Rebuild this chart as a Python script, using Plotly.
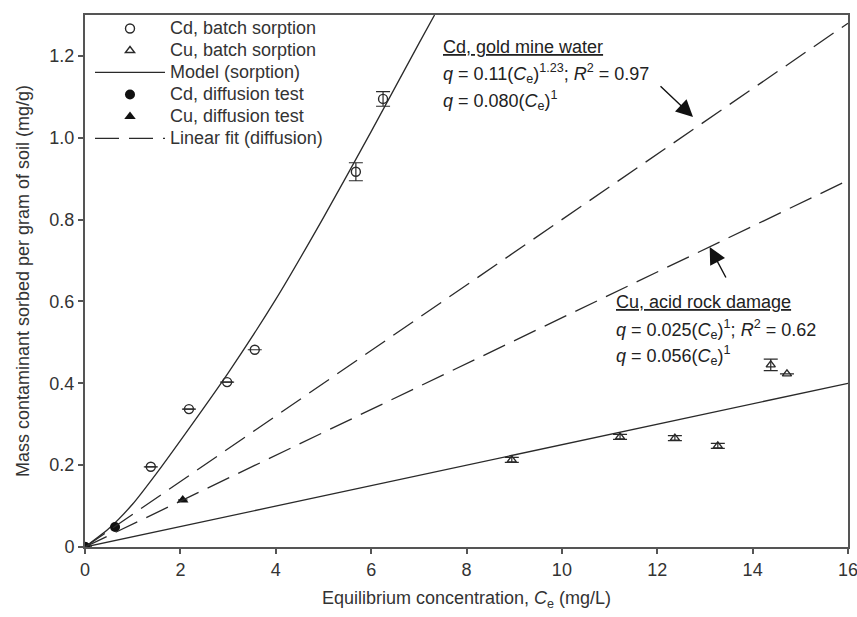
import plotly.graph_objects as go

# ---- data ----
cd_batch_x = [0.0, 1.38, 2.18, 2.98, 3.56, 5.68, 6.25]
cd_batch_y = [0.0, 0.196, 0.337, 0.403, 0.482, 0.917, 1.095]
cd_batch_xerr = [0, 0.12, 0.12, 0.12, 0, 0, 0]
cd_batch_yerr = [0, 0, 0, 0, 0, 0.022, 0.018]

cu_batch_x = [0.0, 8.95, 11.22, 12.37, 13.27, 14.38, 14.72]
cu_batch_y = [0.0, 0.213, 0.269, 0.266, 0.247, 0.445, 0.423]
cu_batch_yerr = [0, 0.006, 0.006, 0.006, 0.006, 0.014, 0]

cd_diff_x = [0.0, 0.63]
cd_diff_y = [0.0, 0.049]
cu_diff_x = [0.0, 2.05]
cu_diff_y = [0.0, 0.115]
cu_diff_xerr = [0, 0.1]

# model (sorption) curves
cd_model_x = [0.0, 0.5, 1.0, 1.5, 2.0, 3.0, 4.0, 5.0, 6.0, 7.0, 7.33]
cd_model_y = [0.0, 0.045, 0.105, 0.18, 0.26, 0.425, 0.605, 0.805, 1.015, 1.23, 1.30]
cu_model_x = [0.0, 16.0]
cu_model_y = [0.0, 0.40]

# linear fits (diffusion)
cd_fit_x = [0.0, 16.0]
cd_fit_y = [0.0, 1.28]
cu_fit_x = [0.0, 16.0]
cu_fit_y = [0.0, 0.896]

x_ticks = [0, 2, 4, 6, 8, 10, 12, 14, 16]
y_ticks = [0, 0.2, 0.4, 0.6, 0.8, 1.0, 1.2]
y_ticktext = ["0", "0.2", "0.4", "0.6", "0.8", "1.0", "1.2"]

legend_names = ["Cd, batch sorption", "Cu, batch sorption", "Model (sorption)",
                "Cd, diffusion test", "Cu, diffusion test", "Linear fit (diffusion)"]

INK = "#2a2a2a"
FONT = "Liberation Sans, Arial, sans-serif"
FS = 18


def lg(name):
    return '<span style="font-size:%dpx">%s</span>' % (FS, name)


fig = go.Figure()

fig.add_trace(go.Scatter(
    x=cd_batch_x, y=cd_batch_y, mode="markers", name=lg(legend_names[0]),
    marker=dict(symbol="circle-open", size=9, color=INK, line=dict(width=1.4)),
    error_x=dict(type="data", array=cd_batch_xerr, color=INK, thickness=1.2, width=0),
    error_y=dict(type="data", array=cd_batch_yerr, color=INK, thickness=1.2, width=7),
))
fig.add_trace(go.Scatter(
    x=cu_batch_x, y=cu_batch_y, mode="markers", name=lg(legend_names[1]),
    marker=dict(symbol="triangle-up-open", size=8, color=INK, line=dict(width=1.4)),
    error_y=dict(type="data", array=cu_batch_yerr, color=INK, thickness=1.2, width=7),
))
fig.add_trace(go.Scatter(
    x=cd_model_x, y=cd_model_y, mode="lines", name=lg(legend_names[2]),
    line=dict(color=INK, width=1.3, shape="spline", smoothing=0.6),
))
fig.add_trace(go.Scatter(
    x=cu_model_x, y=cu_model_y, mode="lines", showlegend=False,
    line=dict(color=INK, width=1.3),
))
fig.add_trace(go.Scatter(
    x=cd_diff_x, y=cd_diff_y, mode="markers", name=lg(legend_names[3]),
    marker=dict(symbol="circle", size=10, color="#111"),
))
fig.add_trace(go.Scatter(
    x=cu_diff_x, y=cu_diff_y, mode="markers", name=lg(legend_names[4]),
    marker=dict(symbol="triangle-up", size=10, color="#111"),
    error_x=dict(type="data", array=cu_diff_xerr, color=INK, thickness=1.2, width=0),
))
fig.add_trace(go.Scatter(
    x=cd_fit_x, y=cd_fit_y, mode="lines", name=lg(legend_names[5]),
    line=dict(color=INK, width=1.3, dash="24px,10px"),
))
fig.add_trace(go.Scatter(
    x=cu_fit_x, y=cu_fit_y, mode="lines", showlegend=False,
    line=dict(color=INK, width=1.3, dash="24px,10px"),
))

# plot area in pixels
L, R, T, B = 85, 848, 15, 547


def px(xp):
    return (xp - L) / (R - L)


def py(yp):
    return (B - yp) / (B - T)


annot_font = dict(family=FONT, size=FS, color="#222")
anns = [
    dict(x=441, y=47, text="<u>Cd, gold mine water</u>"),
    dict(x=441, y=74, text="<i>q</i> = 0.11(<i>C</i><sub>e</sub>)<sup>1.23</sup>; <i>R</i><sup>2</sup> = 0.97"),
    dict(x=441, y=100, text="<i>q</i> = 0.080(<i>C</i><sub>e</sub>)<sup>1</sup>"),
    dict(x=614, y=302, text="<u>Cu, acid rock damage</u>"),
    dict(x=614, y=329, text="<i>q</i> = 0.025(<i>C</i><sub>e</sub>)<sup>1</sup>; <i>R</i><sup>2</sup> = 0.62"),
    dict(x=614, y=355, text="<i>q</i> = 0.056(<i>C</i><sub>e</sub>)<sup>1</sup>"),
]
annotations = []
for a in anns:
    annotations.append(dict(
        x=px(a["x"]), y=py(a["y"]), xref="paper", yref="paper",
        text=a["text"], showarrow=False, xanchor="left", yanchor="middle",
        font=annot_font,
    ))
# arrows
annotations.append(dict(x=12.75, y=1.051, xref="x", yref="y", text="", showarrow=True,
                        ax=-34, ay=-32, arrowhead=2, arrowsize=2.4, arrowwidth=1.4,
                        arrowcolor="#111"))
annotations.append(dict(x=13.10, y=0.733, xref="x", yref="y", text="", showarrow=True,
                        ax=17, ay=32, arrowhead=2, arrowsize=2.4, arrowwidth=1.4,
                        arrowcolor="#111"))

axis_common = dict(
    showgrid=False, zeroline=False, showline=True, linecolor="#555", linewidth=2,
    mirror=True, ticks="outside", ticklen=5, tickwidth=1.5, tickcolor="#555",
    tickfont=dict(family=FONT, size=FS, color="#333"), automargin=False,
    ticklabeloverflow="allow",
)

fig.update_layout(
    width=857, height=617,
    margin=dict(l=L, r=857 - R, t=T, b=617 - B),
    paper_bgcolor="white", plot_bgcolor="white",
    font=dict(family=FONT, size=FS, color="#333"),
    xaxis=dict(range=[0, 16], tickvals=x_ticks,
               title=dict(text="Equilibrium concentration, <i>C</i><sub>e</sub> (mg/L)",
                          font=dict(family=FONT, size=FS, color="#333"), standoff=13),
               **axis_common),
    yaxis=dict(range=[0, 1.30], tickvals=y_ticks, ticktext=y_ticktext,
               title=dict(text="Mass contaminant sorbed per gram of soil (mg/g)",
                          font=dict(family=FONT, size=FS, color="#333"), standoff=15),
               **axis_common),
    legend=dict(x=px(90), y=py(12.5), xanchor="left", yanchor="top", bgcolor="rgba(0,0,0,0)",
                font=dict(family=FONT, size=14.6, color="#333"), tracegroupgap=0,
                itemwidth=70),
    annotations=annotations,
    showlegend=True,
)

fig.write_html("out.html")
